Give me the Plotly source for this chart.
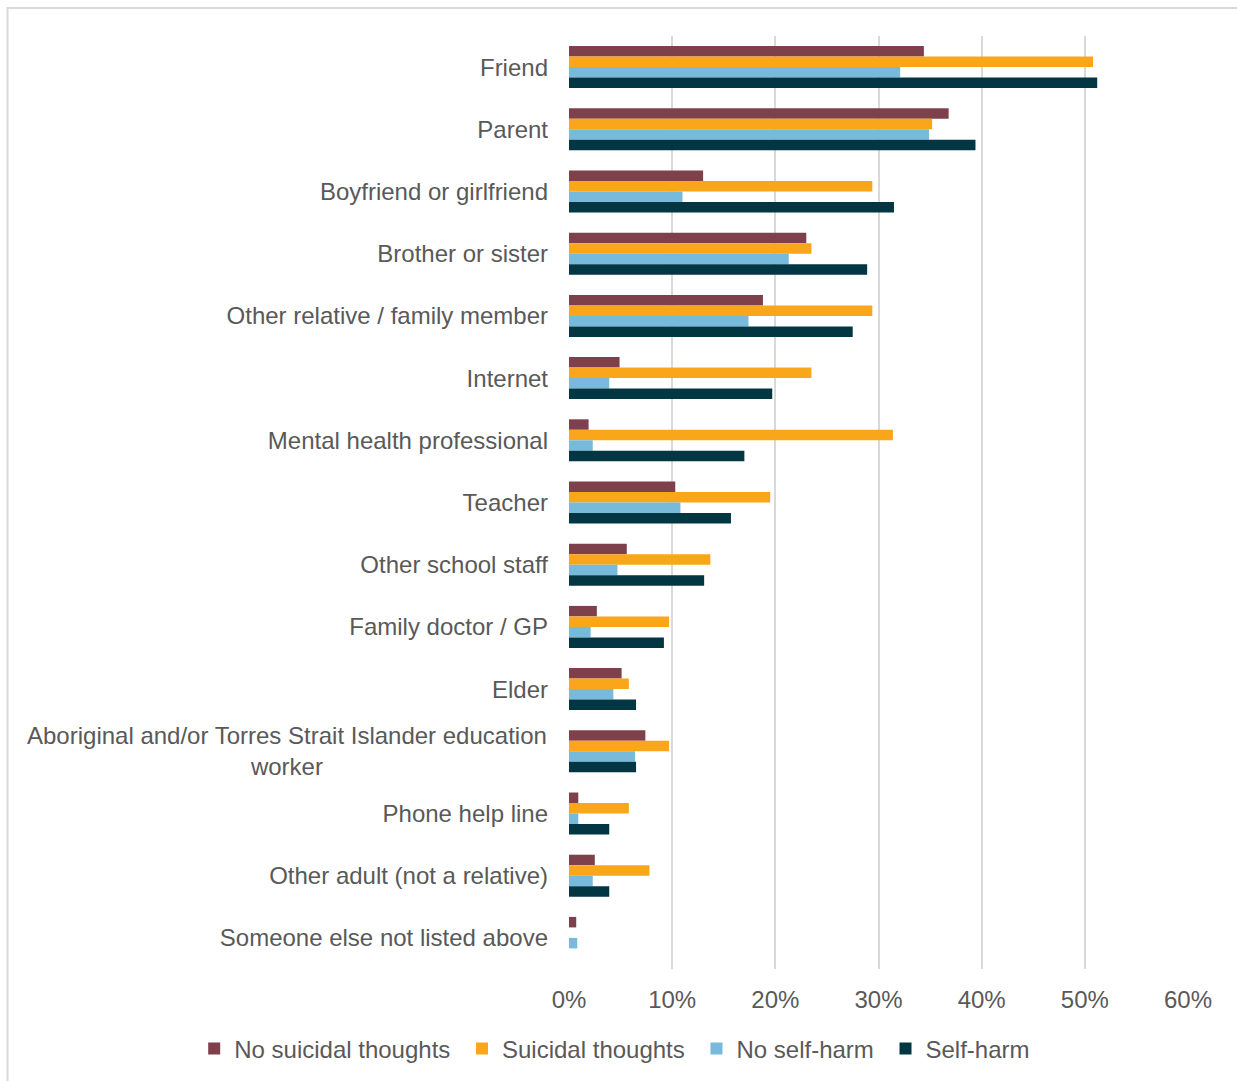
import plotly.graph_objects as go

# Sources of help, top to bottom
categories = [
    "Friend",
    "Parent",
    "Boyfriend or girlfriend",
    "Brother or sister",
    "Other relative / family member",
    "Internet",
    "Mental health professional",
    "Teacher",
    "Other school staff",
    "Family doctor / GP",
    "Elder",
    "Aboriginal and/or Torres Strait Islander education worker",
    "Phone help line",
    "Other adult (not a relative)",
    "Someone else not listed above",
]

# Percentage of each group who would seek help from each source
no_suicidal_thoughts = [34.4, 36.8, 13.0, 23.0, 18.8, 4.9, 1.9, 10.3, 5.6, 2.7, 5.1, 7.4, 0.9, 2.5, 0.7]
suicidal_thoughts = [50.8, 35.2, 29.4, 23.5, 29.4, 23.5, 31.4, 19.5, 13.7, 9.7, 5.8, 9.7, 5.8, 7.8, None]
no_self_harm = [32.1, 34.9, 11.0, 21.3, 17.4, 3.9, 2.3, 10.8, 4.7, 2.1, 4.3, 6.4, 0.9, 2.3, 0.8]
self_harm = [51.2, 39.4, 31.5, 28.9, 27.5, 19.7, 17.0, 15.7, 13.1, 9.2, 6.5, 6.5, 3.9, 3.9, None]

x_ticks = [0, 10, 20, 30, 40, 50, 60]
x_tick_labels = ["0%", "10%", "20%", "30%", "40%", "50%", "60%"]

series = [
    ("No suicidal thoughts", no_suicidal_thoughts, "#7E404A"),
    ("Suicidal thoughts", suicidal_thoughts, "#FAA61A"),
    ("No self-harm", no_self_harm, "#77BADB"),
    ("Self-harm", self_harm, "#023642"),
]

FONT = "Liberation Sans, Arial, sans-serif"
TEXT_COLOR = "#595959"
GRID = "#D9D9D9"
FS = 24

fig = go.Figure()
for i, (name, vals, color) in enumerate(series):
    # a trailing no-break space widens the gap between legend entries
    pad = "\u00a0" if i < len(series) - 1 else ""
    fig.add_trace(go.Bar(
        name=name + pad,
        y=categories,
        x=vals,
        orientation="h",
        marker=dict(color=color, line=dict(width=0)),
    ))

# The long label wraps onto two centred lines, so it is drawn as an annotation
long_label = "Aboriginal and/or Torres Strait Islander education worker"
tick_text = ["" if c == long_label else c for c in categories]

fig.add_annotation(
    x=0, xref="paper", y=long_label, yref="y",
    xanchor="right", yanchor="middle", xshift=-20, yshift=0,
    text="Aboriginal and/or Torres Strait Islander education<br>worker",
    align="center", showarrow=False,
    font=dict(family=FONT, size=FS, color=TEXT_COLOR),
)

# Outer frame around the chart
fig.add_shape(
    type="rect", xref="paper", yref="paper",
    x0=-0.9071, x1=1.2, y0=-0.2, y1=1.0300,
    line=dict(color=GRID, width=2), fillcolor="rgba(0,0,0,0)", layer="below",
)

fig.update_layout(
    width=1237, height=1081,
    margin=dict(l=569, r=49, t=36, b=112, autoexpand=False),
    paper_bgcolor="white", plot_bgcolor="white",
    barmode="group", bargap=0.325, bargroupgap=0,
    font=dict(family=FONT, size=FS, color=TEXT_COLOR),
    showlegend=True,
    legend=dict(
        orientation="h", xref="paper", yref="paper",
        x=-0.6055, xanchor="left", y=-0.0857, yanchor="middle",
        font=dict(family=FONT, size=FS, color=TEXT_COLOR),
        traceorder="normal", itemclick=False,
    ),
    xaxis=dict(
        range=[0, 60], tickvals=x_ticks, ticktext=x_tick_labels,
        showgrid=True, gridcolor=GRID, gridwidth=2,
        zeroline=False, showline=False, ticks="",
        ticklabelstandoff=14,
        tickfont=dict(family=FONT, size=FS, color=TEXT_COLOR),
    ),
    yaxis=dict(
        categoryorder="array", categoryarray=categories,
        tickvals=categories, ticktext=tick_text,
        autorange="reversed", showgrid=False, zeroline=False, showline=False,
        ticks="", ticklabelstandoff=20,
        tickfont=dict(family=FONT, size=FS, color=TEXT_COLOR),
    ),
)

fig.write_html("out.html")
